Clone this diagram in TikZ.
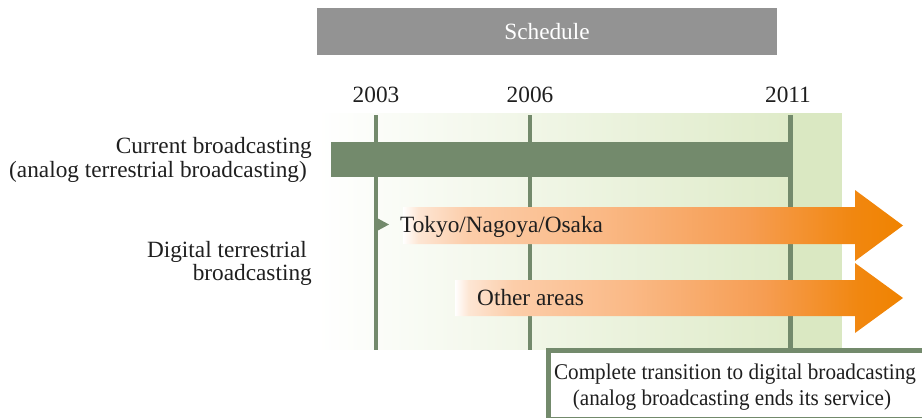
\documentclass[tikz,border=0pt]{standalone}
\usepackage{fontspec}
\setmainfont{Liberation Serif}
\newfontfamily\boxfont[FakeStretch=0.94]{Liberation Serif}
\definecolor{gr}{HTML}{738A6C}
\definecolor{grayhd}{HTML}{939393}
\definecolor{orng}{HTML}{F08300}
\definecolor{bgG}{HTML}{DFEBC9}
\definecolor{bgR}{HTML}{DAE8C2}
\definecolor{or1}{HTML}{FDE6D4}
\definecolor{or2}{HTML}{FCCDA9}
\definecolor{or3}{HTML}{FAB986}
\definecolor{or4}{HTML}{F69D52}
\definecolor{or5}{HTML}{F18710}
\pgfdeclarehorizontalshading{orsh}{100bp}{color(0bp)=(white); color(25bp)=(white);
  color(26.5bp)=(or1); color(31.5bp)=(or2); color(44.5bp)=(or3); color(59.5bp)=(or4);
  color(70bp)=(or5); color(75bp)=(orng); color(100bp)=(orng)}
\begin{document}
\begin{tikzpicture}[x=1pt,y=-1pt,
  lbl/.style={font=\fontsize{23.3}{24}\selectfont, inner sep=0pt, text=black!88},
  boxlbl/.style={font=\boxfont\fontsize{22.5}{26}\selectfont, inner sep=0pt, text=black!88},
  vline/.style={draw=gr, line width=3.5pt},
  arrowfill/.style={shading=orsh, draw=none}]
\useasboundingbox (0,0) rectangle (922,418);
% schedule header
\fill[grayhd] (317,8) rectangle (777,55);
\node[lbl, text=white] (sched) at (547,32) {Schedule};
% years
\node[lbl, anchor=base] (y03) at (376,102) {2003};
\node[lbl, anchor=base] (y06) at (530,102) {2006};
\node[lbl, anchor=base] (y11) at (788,102) {2011};
% background
\shade[left color=white, right color=bgG] (317,113) rectangle (790,349);
\fill[bgR] (790,113) rectangle (842,349);
% vertical lines
\coordinate (t03) at (376,115); \coordinate (b03) at (376,350);
\coordinate (t06) at (530,115); \coordinate (b06) at (530,350);
\coordinate (t11) at (790,115); \coordinate (b11) at (790,350);
\draw[vline] (t03) -- (b03);
\draw[vline] (t06) -- (b06);
\draw[vline, line width=5pt] (t11) -- (b11);
% current broadcasting bar
\fill[gr] (331,142) rectangle (792.5,177);
% left labels
\node[lbl, anchor=base east] (cur1) at (312,153) {Current broadcasting};
\node[lbl, anchor=base east] (cur2) at (307,177) {(analog terrestrial broadcasting)};
\node[lbl, anchor=base east] (dig1) at (307,257) {Digital terrestrial};
\node[lbl, anchor=base east] (dig2) at (312,280) {broadcasting};
% arrows
\path[arrowfill] (403,207) -- (855,207) -- (855,190) -- (903,225.5) -- (855,261) -- (855,244) -- (403,244) -- cycle;
\path[arrowfill] (455,280) -- (855,280) -- (855,263) -- (903,298) -- (855,333) -- (855,316) -- (455,316) -- cycle;
\fill[gr] (377,218) -- (389,224.5) -- (377,231) -- cycle;
\node[lbl, anchor=base west] (tno) at (400,232) {Tokyo/Nagoya/Osaka};
\node[lbl, anchor=base west] (oth) at (477,305) {Other areas};
% bottom box
\draw[gr, line width=5pt, fill=white] (548,350) rectangle (950,419);
\node[boxlbl, anchor=base] (cp1) at (735,379) {Complete transition to digital broadcasting};
\node[boxlbl, anchor=base] (cp2) at (732,405) {(analog broadcasting ends its service)};
\end{tikzpicture}
\end{document}
